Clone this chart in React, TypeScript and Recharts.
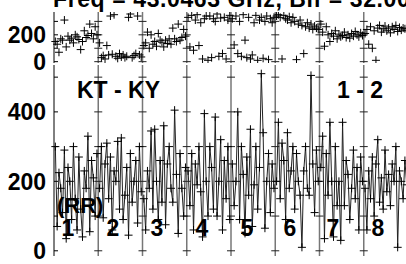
import React from 'react';
import {
  ComposedChart,
  Line,
  Scatter,
  XAxis,
  YAxis,
  ReferenceLine,
} from 'recharts';

// 8 IFs, 33 channel units each; points sit at these offsets inside an IF
const IF_START = [0, 33, 66, 99, 132, 165, 198, 231];
const CH_OFFSET = [
  1, 2.35, 3.7, 5.05, 6.4, 7.75, 9.1, 10.45, 11.8, 13.15, 14.5, 15.85,
  17.2, 18.55, 19.9, 21.25, 22.6, 23.95, 25.3, 26.65, 28, 29.35, 30.7, 32.05,
];
const IF_LABELS = ['1', '2', '3', '4', '5', '6', '7', '8'];
const IF_LABEL_X = [68, 113, 157, 202, 247, 290, 333, 378];

// amplitude per IF
const AMP_1 = [300, 70, 225, 180, 110, 290, 35, 240, 200, 90, 300, 150, 60, 270, 120, 40, 230, 180, 330, 55, 260, 210, 100, 280];
const AMP_2 = [180, 300, 95, 250, 310, 150, 270, 60, 230, 200, 315, 120, 325, 90, 160, 240, 45, 280, 140, 200, 260, 80, 300, 170];
const AMP_3 = [150, 60, 230, 180, 345, 120, 350, 200, 90, 260, 140, 360, 75, 250, 300, 180, 140, 405, 220, 50, 280, 180, 100, 240];
const AMP_4 = [230, 130, 280, 60, 250, 190, 300, 170, 40, 395, 200, 100, 300, 240, 120, 385, 100, 200, 320, 60, 260, 150, 300, 90];
const AMP_5 = [250, 130, 200, 400, 90, 300, 220, 50, 270, 160, 350, 70, 190, 300, 120, 240, 510, 340, 65, 200, 280, 110, 250, 180];
const AMP_6 = [200, 370, 150, 310, 260, 90, 340, 180, 230, 300, 120, 280, 200, 160, 10, 230, 300, 180, 160, 505, 250, 110, 290, 200];
const AMP_7 = [240, 330, 35, 280, 160, 370, 200, 40, 300, 130, 200, 30, 370, 130, 260, 220, 90, 180, 290, 150, 240, 60, 270, 200];
const AMP_8 = [180, 60, 230, 150, 270, 100, 250, 320, 140, 210, 120, 290, 170, 220, 130, 250, 200, 300, 10, 230, 200, 150, 260, 190];

// phase per IF, degrees (upper panel)
const PH_1 = [150, 130, 70, 170, 160, 310, 110, 190, 160, 175, 140, 200, 185, 165, 90, 150, 230, 180, 195, 280, 210, 170, 260, 200];
const PH_2 = [140, 30, 45, 20, 120, 50, 340, 55, 350, 40, 25, 60, 35, 50, 30, 40, 330, 355, 30, 45, 60, 340, 50, 35];
const PH_3 = [120, 140, 220, 100, 200, 130, 150, 115, 210, 160, 145, 110, 160, 135, 170, 130, 250, 170, 150, 280, 160, 180, 240, 190];
const PH_4 = [330, 110, 345, 85, 310, 350, 120, 290, 20, 320, 340, 10, 340, 30, 320, 300, 355, 40, 325, 60, 330, 20, 310, 345];
const PH_5 = [320, 125, 340, 60, 300, 40, 350, 160, 30, 330, 20, 50, 290, 345, 10, 310, 330, 25, 300, 340, 15, 320, 290, 330];
const PH_6 = [340, 350, 330, 20, 345, 320, 310, 335, 290, 330, 300, 15, 280, 310, 270, 60, 260, 290, 250, 280, 240, 265, 250, 240];
const PH_7 = [280, 220, 115, 260, 200, 150, 210, 190, 230, 170, 205, 185, 195, 220, 180, 200, 175, 210, 190, 225, 200, 185, 215, 195];
const PH_8 = [210, 240, 130, 260, 100, 230, 10, 250, 270, 220, 245, 265, 230, 250, 215, 260, 240, 270, 225, 255, 235, 250, 245, 230];

const X_TICKS = [10, 20, 30, 40, 50, 60, 70, 80, 90, 100, 110, 120, 130, 140, 150, 160, 170, 180, 190, 200, 210, 220, 230, 240, 250, 260];
const SEP_X = [33, 66, 99, 132, 165, 198, 231];
const AMP_TICKS = [0, 100, 200, 300, 400, 500];
const PH_TICKS = [0, 100, 200, 300];

const AMPS = [AMP_1, AMP_2, AMP_3, AMP_4, AMP_5, AMP_6, AMP_7, AMP_8];
const PHS = [PH_1, PH_2, PH_3, PH_4, PH_5, PH_6, PH_7, PH_8];

const ampRows: { x: number; amp: number | null }[] = [];
const phRows: { x: number; ph: number }[] = [];
IF_START.forEach((s, k) => {
  CH_OFFSET.forEach((o, j) => {
    ampRows.push({ x: s + o, amp: AMPS[k][j] });
    phRows.push({ x: s + o, ph: PHS[k][j] });
  });
  ampRows.push({ x: s + 33, amp: null });
});

const sepTicks = (levels: number[]) =>
  SEP_X.flatMap((x) => levels.map((v) => ({ x, v })));

const FONT = '"Liberation Sans", Arial, sans-serif';

const Plus = (props: any) => {
  const { cx, cy } = props;
  if (cx == null || cy == null) return <g />;
  return (
    <path
      d={`M${cx - 4},${cy}H${cx + 4}M${cx},${cy - 4}V${cy + 4}`}
      stroke="#000"
      strokeWidth={1}
      fill="none"
    />
  );
};

const Dash = (props: any) => {
  const { cx, cy } = props;
  return <path d={`M${cx - 4},${cy}H${cx + 4}`} stroke="#222" strokeWidth={1} />;
};

const yTick = (props: any) => {
  const { x, y, payload } = props;
  if (payload.value % 200 !== 0) return <g />;
  return (
    <text
      x={x}
      y={y}
      dy="0.36em"
      textAnchor="end"
      fontFamily={FONT}
      fontWeight="bold"
      fontSize={23}
      fill="#000"
    >
      {payload.value}
    </text>
  );
};

const axes = (yDomain: number[], yTicks: number[]) => [
  <XAxis
    key="xb"
    xAxisId="b"
    dataKey="x"
    type="number"
    domain={[0, 264]}
    ticks={X_TICKS}
    interval={0}
    height={0}
    mirror
    tick={false}
    tickSize={3}
    axisLine={{ stroke: '#000', strokeWidth: 1.5 }}
    tickLine={{ stroke: '#000' }}
  />,
  <XAxis
    key="xt"
    xAxisId="t"
    dataKey="x"
    type="number"
    orientation="top"
    domain={[0, 264]}
    ticks={X_TICKS}
    interval={0}
    height={0}
    mirror
    tick={false}
    tickSize={3}
    axisLine={{ stroke: '#000', strokeWidth: 1 }}
    tickLine={{ stroke: '#000' }}
  />,
  <YAxis
    key="y"
    yAxisId="y"
    type="number"
    domain={yDomain}
    ticks={yTicks}
    interval={0}
    width={54}
    tickSize={-4}
    tickMargin={12}
    tick={yTick}
    axisLine={{ stroke: '#000', strokeWidth: 1 }}
    tickLine={{ stroke: '#000' }}
    allowDataOverflow
  />,
  ...SEP_X.map((x) => (
    <ReferenceLine key={`s${x}`} x={x} xAxisId="b" yAxisId="y" stroke="#777" strokeWidth={1.5} />
  )),
];

export default function App() {
  return (
    <div
      style={{
        position: 'fixed',
        left: 0,
        top: 0,
        width: 406,
        height: 264,
        overflow: 'hidden',
        background: '#fff',
      }}
    >
      <div style={{ position: 'absolute', left: 0, top: 0 }}>
        <ComposedChart width={420} height={80} data={phRows} margin={{ top: 12, right: 12, bottom: 17, left: 0 }}>
          {axes([-10, 370], PH_TICKS)}
          <Scatter data={sepTicks(PH_TICKS).map((d) => ({ x: d.x, ph: d.v }))} dataKey="ph" xAxisId="b" yAxisId="y" shape={Dash} isAnimationActive={false} />
          <Scatter data={phRows} dataKey="ph" xAxisId="b" yAxisId="y" shape={Plus} isAnimationActive={false} />
        </ComposedChart>
      </div>
      <div style={{ position: 'absolute', left: 0, top: 0 }}>
        <ComposedChart width={420} height={264} data={ampRows} margin={{ top: 65, right: 12, bottom: 8, left: 0 }}>
          {axes([-15, 535], AMP_TICKS)}
          <Scatter data={sepTicks(AMP_TICKS).map((d) => ({ x: d.x, amp: d.v }))} dataKey="amp" xAxisId="b" yAxisId="y" shape={Dash} isAnimationActive={false} />
          <Line
            dataKey="amp"
            xAxisId="b"
            yAxisId="y"
            stroke="#222"
            strokeWidth={1}
            dot={false}
            connectNulls={false}
            isAnimationActive={false}
          />
          <Scatter data={ampRows.filter((r) => r.amp != null)} dataKey="amp" xAxisId="b" yAxisId="y" shape={Plus} isAnimationActive={false} />
        </ComposedChart>
      </div>
      <svg
        width={406}
        height={264}
        style={{ position: 'absolute', left: 0, top: 0, pointerEvents: 'none' }}
        fontFamily={FONT}
        fontWeight="bold"
      >
        <text x={53} y={7} fontSize={23} letterSpacing={0.6}>Freq = 43.0463 GHz, Bif = 32.000 MHz</text>
        <text x={77} y={98} fontSize={23}>KT - KY</text>
        <text x={337} y={98} fontSize={23}>1 - 2</text>
        <text x={57} y={213} fontSize={22}>(RR)</text>
        {IF_LABELS.map((t, i) => (
          <text key={t} x={IF_LABEL_X[i]} y={236} fontSize={23} textAnchor="middle">
            {t}
          </text>
        ))}
      </svg>
    </div>
  );
}
